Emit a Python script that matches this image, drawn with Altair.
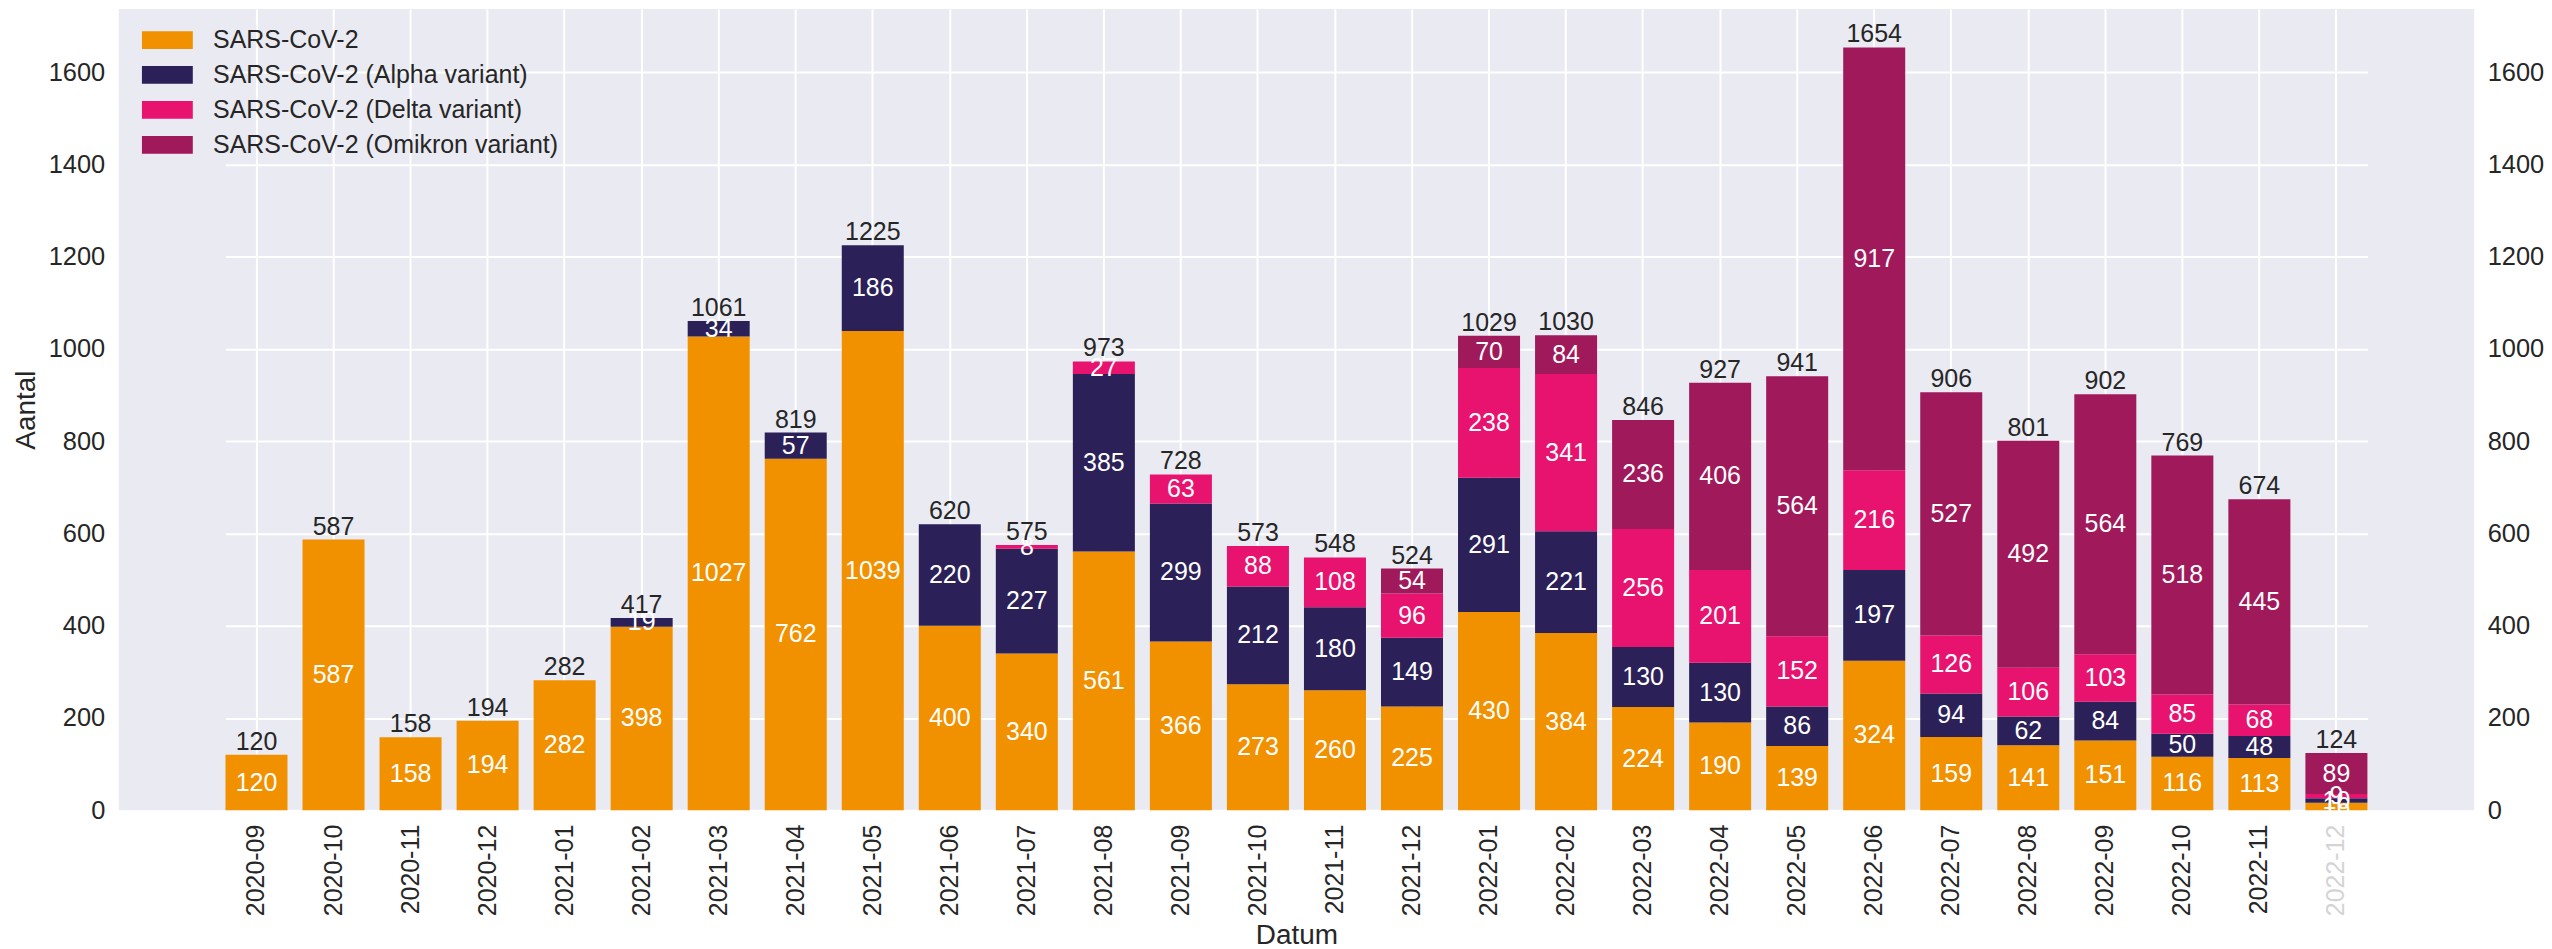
import altair as alt
import pandas as pd

months = ["2020-09", "2020-10", "2020-11", "2020-12", "2021-01", "2021-02", "2021-03",
          "2021-04", "2021-05", "2021-06", "2021-07", "2021-08", "2021-09", "2021-10",
          "2021-11", "2021-12", "2022-01", "2022-02", "2022-03", "2022-04", "2022-05",
          "2022-06", "2022-07", "2022-08", "2022-09", "2022-10", "2022-11", "2022-12"]

wild = [120, 587, 158, 194, 282, 398, 1027, 762, 1039, 400, 340, 561, 366, 273,
        260, 225, 430, 384, 224, 190, 139, 324, 159, 141, 151, 116, 113, 16]
alpha = [0, 0, 0, 0, 0, 19, 34, 57, 186, 220, 227, 385, 299, 212,
         180, 149, 291, 221, 130, 130, 86, 197, 94, 62, 84, 50, 48, 10]
delta = [0, 0, 0, 0, 0, 0, 0, 0, 0, 0, 8, 27, 63, 88,
         108, 96, 238, 341, 256, 201, 152, 216, 126, 106, 103, 85, 68, 9]
omikron = [0, 0, 0, 0, 0, 0, 0, 0, 0, 0, 0, 0, 0, 0,
           0, 54, 70, 84, 236, 406, 564, 917, 527, 492, 564, 518, 445, 89]

series_names = ["SARS-CoV-2", "SARS-CoV-2 (Alpha variant)",
                "SARS-CoV-2 (Delta variant)", "SARS-CoV-2 (Omikron variant)"]
series_colors = ["#f29100", "#2b2158", "#e8136f", "#a0195a"]
y_ticks = [0, 200, 400, 600, 800, 1000, 1200, 1400, 1600]

rows = []
for si, (name, vals) in enumerate(zip(series_names, [wild, alpha, delta, omikron])):
    for m, v in zip(months, vals):
        if v > 0:
            rows.append({"month": m, "series": name, "order": si, "value": v})
df = pd.DataFrame(rows)

FONT = "Liberation Sans"
TXT = "#262626"
YDOM = [0, 1737]
W = 2361
H = 803

xscale = alt.Scale(domain=months, range=[107, 2254], paddingInner=0.195, paddingOuter=0)
yscale = alt.Scale(domain=YDOM, nice=False, zero=True)

xaxis = alt.Axis(title="Datum", labelAngle=270, labelFontSize=25, labelPadding=14,
                 titleFontSize=28, titlePadding=6, ticks=False, domain=False,
                 grid=True, gridColor="white", gridWidth=2, bandPosition=0.5,
                 labelColor={"condition": {"test": "datum.value == '2022-12'", "value": "#d4d4d4"},
                             "value": TXT},
                 titleColor=TXT, titleFontWeight="normal")

yaxis_left = alt.Axis(title="Aantal", values=y_ticks, format="d", labelFontSize=25.5,
                      labelPadding=14, titleFontSize=28, titlePadding=8, ticks=False,
                      domain=False, grid=True, gridColor="white", gridWidth=2,
                      labelColor=TXT, titleColor=TXT, titleFontWeight="normal")
yaxis_right = alt.Axis(title=None, orient="right", values=y_ticks, format="d",
                       labelFontSize=25.5, labelPadding=13, ticks=False, domain=False,
                       grid=False, labelColor=TXT)

base = alt.Chart(df).transform_stack(
    stack="value", groupby=["month"], as_=["y0", "y1"],
    sort=[alt.SortField("order", order="ascending")]
)

bars = base.mark_bar().encode(
    x=alt.X("month:N", scale=xscale, axis=xaxis, sort=months),
    y=alt.Y("y0:Q", scale=yscale, axis=yaxis_left),
    y2="y1:Q",
    color=alt.Color("series:N",
                    scale=alt.Scale(domain=series_names, range=series_colors),
                    legend=alt.Legend(title=None, orient="none", legendX=23, legendY=18,
                                      labelFontSize=25, labelColor=TXT, labelFont=FONT,
                                      labelLimit=600,
                                      symbolType="M-1,-0.695H3V0.695H-1Z", symbolSize=650,
                                      symbolStrokeWidth=0, labelOffset=45.5,
                                      rowPadding=9, padding=0)),
)

seg_text = base.transform_calculate(mid="(datum.y0 + datum.y1) / 2").mark_text(
    color="white", fontSize=25, font=FONT, baseline="middle"
).encode(
    x=alt.X("month:N", scale=xscale, axis=xaxis, sort=months),
    y=alt.Y("mid:Q", scale=yscale, axis=None),
    text="value:Q",
)

tot_text = alt.Chart(df).transform_aggregate(
    total="sum(value)", groupby=["month"]
).mark_text(color=TXT, fontSize=25, font=FONT, baseline="alphabetic", dy=-5).encode(
    x=alt.X("month:N", scale=xscale, axis=xaxis, sort=months),
    y=alt.Y("total:Q", scale=yscale, axis=yaxis_right),
    text="total:Q",
)

chart = alt.layer(bars, seg_text, tot_text).resolve_axis(y="independent").properties(
    width=W, height=H,
    padding={"left": 4, "top": 0, "right": 0, "bottom": 0},
).configure(font=FONT).configure_view(fill="#eaeaf2", stroke=None)

chart.save("out.html", embed_options={"renderer": "svg", "actions": False})
